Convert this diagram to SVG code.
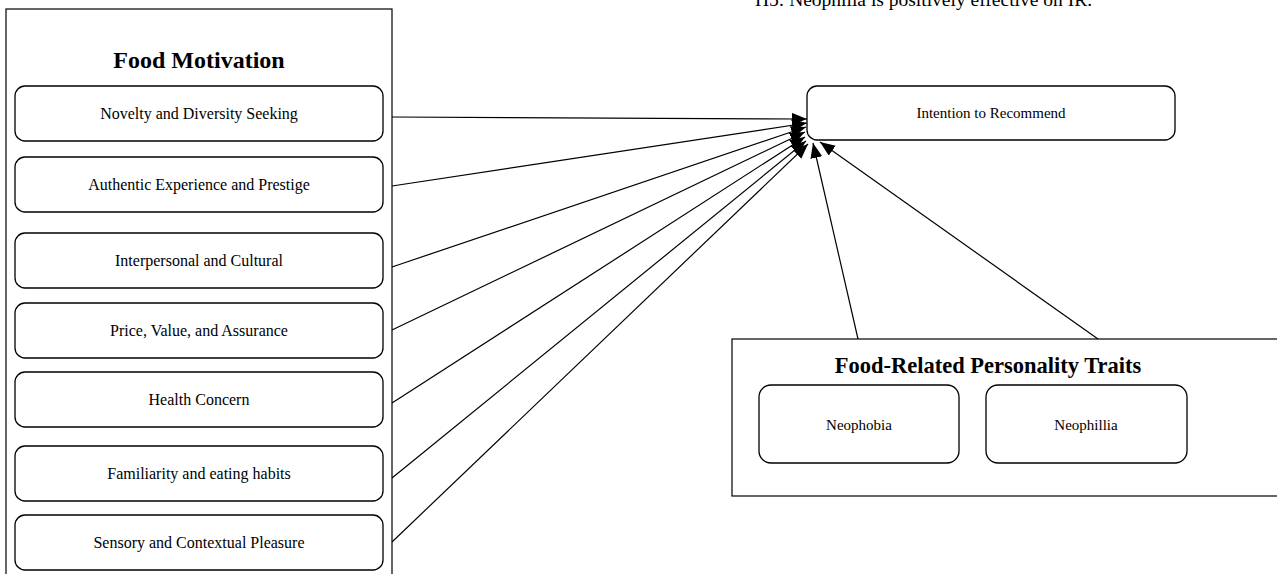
<svg xmlns="http://www.w3.org/2000/svg" width="1277" height="574" viewBox="0 0 1277 574">
<style>
  .group { fill: #fff; stroke: #000; stroke-width: 1.2; }
  .node { fill: #fff; stroke: #000; stroke-width: 1.3; }
  .title { font-family: "Liberation Serif", "Times New Roman", serif; font-weight: bold; fill: #000; text-anchor: middle; }
  .lbl { font-family: "Liberation Serif", "Times New Roman", serif; fill: #000; text-anchor: middle; }
  .edge { stroke: #000; stroke-width: 1.2; fill: none; marker-end: url(#arr); }
  .note { font-family: "Liberation Serif", "Times New Roman", serif; fill: #000; font-size: 19.5px; }
</style>
<defs>
  <marker id="arr" markerUnits="userSpaceOnUse" markerWidth="16" markerHeight="13" refX="15" refY="6" orient="auto">
    <path d="M0,0 L15,6 L0,12 z" fill="#000"/>
  </marker>
</defs>
<rect width="1277" height="574" fill="#fff"/>
<text class="note" x="755" y="6">H5: Neophilia is positively effective on IR.</text>

<g id="food-motivation">
  <rect class="group" x="6" y="9" width="386" height="580"/>
  <text class="title" x="199" y="68" font-size="24">Food Motivation</text>
</g>
<g id="novelty">
  <rect class="node" x="15" y="86" width="368" height="55" rx="10"/>
  <text class="lbl" x="199" y="119" font-size="16">Novelty and Diversity Seeking</text>
</g>
<g id="authentic">
  <rect class="node" x="15" y="157" width="368" height="55" rx="10"/>
  <text class="lbl" x="199" y="190" font-size="16">Authentic Experience and Prestige</text>
</g>
<g id="interpersonal">
  <rect class="node" x="15" y="233" width="368" height="55" rx="10"/>
  <text class="lbl" x="199" y="266" font-size="16">Interpersonal and Cultural</text>
</g>
<g id="price">
  <rect class="node" x="15" y="303" width="368" height="55" rx="10"/>
  <text class="lbl" x="199" y="336" font-size="16">Price, Value, and Assurance</text>
</g>
<g id="health">
  <rect class="node" x="15" y="372" width="368" height="55" rx="10"/>
  <text class="lbl" x="199" y="405" font-size="16">Health Concern</text>
</g>
<g id="familiarity">
  <rect class="node" x="15" y="446" width="368" height="55" rx="10"/>
  <text class="lbl" x="199" y="479" font-size="16">Familiarity and eating habits</text>
</g>
<g id="sensory">
  <rect class="node" x="15" y="515" width="368" height="55" rx="10"/>
  <text class="lbl" x="199" y="548" font-size="16">Sensory and Contextual Pleasure</text>
</g>

<g id="intention">
  <rect class="node" x="807" y="86" width="368" height="54" rx="10"/>
  <text class="lbl" x="991" y="118" font-size="15">Intention to Recommend</text>
</g>

<g id="personality-traits">
  <rect class="group" x="732" y="339" width="560" height="157"/>
  <text class="title" x="988" y="373" font-size="22.5">Food-Related Personality Traits</text>
</g>
<g id="neophobia">
  <rect class="node" x="759" y="385" width="200" height="78" rx="12"/>
  <text class="lbl" x="859" y="430" font-size="15">Neophobia</text>
</g>
<g id="neophillia">
  <rect class="node" x="986" y="385" width="201" height="78" rx="12"/>
  <text class="lbl" x="1086" y="430" font-size="15">Neophillia</text>
</g>

<g id="connectors">
  <line class="edge" x1="392" y1="117" x2="807" y2="119"/>
  <line class="edge" x1="392" y1="186" x2="807" y2="123"/>
  <line class="edge" x1="392" y1="267" x2="806" y2="127"/>
  <line class="edge" x1="392" y1="330" x2="805" y2="132"/>
  <line class="edge" x1="392" y1="403" x2="805" y2="137"/>
  <line class="edge" x1="392" y1="478" x2="806" y2="141"/>
  <line class="edge" x1="392" y1="542" x2="808" y2="144"/>
  <line class="edge" x1="858" y1="339" x2="813" y2="143"/>
  <line class="edge" x1="1098" y1="339" x2="820" y2="142"/>
</g>
</svg>
